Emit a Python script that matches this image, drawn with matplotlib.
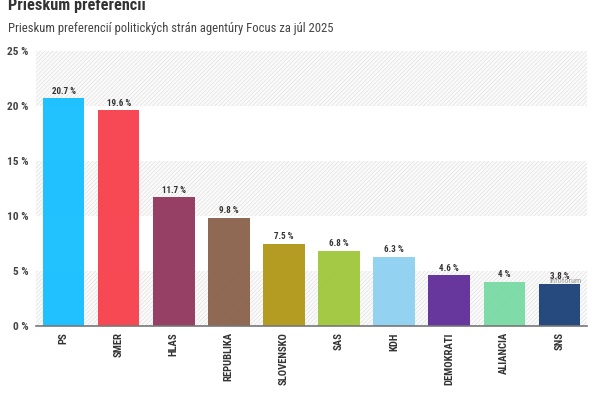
import matplotlib.pyplot as plt
from matplotlib import font_manager as fm
import numpy as np

# Hodnoty z grafu
strany = ['PS', 'SMER', 'HLAS', 'REPUBLIKA', 'SLOVENSKO', 'SAS', 'KDH', 'DEMOKRATI', 'ALIANCIA', 'SNS']
hodnoty = [20.7, 19.6, 11.7, 9.8, 7.5, 6.8, 6.3, 4.6, 4, 3.8]
farby = ['#19c0ff', '#f6434f', '#933a60', '#8c644e', '#b2991c', '#a0c83f', '#90d1f0', '#63309a', '#7bdaa6', '#20447a']
popisky = ['20.7 %', '19.6 %', '11.7 %', '9.8 %', '7.5 %', '6.8 %', '6.3 %', '4.6 %', '4 %', '3.8 %']
y_ticky = [0, 5, 10, 15, 20, 25]
pasy = [(0, 5), (10, 15), (20, 25)]

# Roboto Condensed ak je k dispozicii, inak zmensene Roboto
nazvy = {f.name for f in fm.fontManager.ttflist}
if 'Roboto Condensed' in nazvy:
    pismo, k = 'Roboto Condensed', 1.0
else:
    pismo, k = 'Roboto', 0.82
plt.rcParams['font.family'] = [pismo, 'DejaVu Sans']
plt.rcParams['hatch.linewidth'] = 0.35
plt.rcParams['hatch.color'] = '#d8d8d8'

fig = plt.figure(figsize=(6, 4), dpi=100)
ax = fig.add_axes([36 / 600, 1 - 326 / 400, 551 / 600, 275 / 400])

for dole, hore in pasy:
    ax.axhspan(dole, hore, facecolor='#fafafa', edgecolor='#d8d8d8', hatch='////////', linewidth=0, zorder=0)

x = np.arange(len(strany))
ax.bar(x, hodnoty, width=0.755, color=farby, alpha=0.97, zorder=2)

for xi, v, txt in zip(x, hodnoty, popisky):
    ax.annotate(txt, (xi, v), xytext=(0, 2), textcoords='offset points', ha='center', va='bottom',
                fontsize=6.5 * k, fontweight='bold', color='#333333', zorder=4)

ax.set_xlim(-0.5, len(strany) - 0.5)
ax.set_ylim(0, 25)
ax.set_yticks(y_ticky)
ax.set_yticklabels([f'{t} %' for t in y_ticky], fontsize=8.2 * k, fontweight='bold', color='#444444')
ax.set_xticks(x)
ax.set_xticklabels(strany, rotation=90, fontsize=7.7 * k, fontweight='bold', color='#333333')
ax.tick_params(axis='both', length=0)
ax.tick_params(axis='x', pad=4.5)
ax.tick_params(axis='y', pad=5.5)
for s in ['top', 'right', 'left']:
    ax.spines[s].set_visible(False)
ax.spines['bottom'].set_color('#777777')
ax.spines['bottom'].set_linewidth(1.2)

fig.text(8 / 600, 1 - 10 / 400, 'Prieskum preferencií', fontsize=11.7 * k, fontweight='bold', color='#333333', va='baseline')
fig.text(8 / 600, 1 - 32 / 400, 'Prieskum preferencií politických strán agentúry Focus za júl 2025', fontsize=9.1 * k, color='#444444', va='baseline')
fig.text(582 / 600, 1 - 283 / 400, 'Infoforum', fontsize=6 * k, color='#9a9a9a', ha='right', va='baseline')

fig.savefig('out.png', dpi=100)
